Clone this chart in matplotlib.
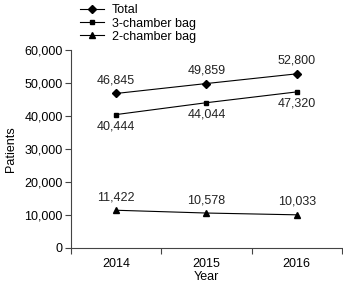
import matplotlib.pyplot as plt
from matplotlib.ticker import FuncFormatter

plt.rcParams['font.family'] = ['Liberation Sans', 'DejaVu Sans']

years = ['2014', '2015', '2016']
total = [46845, 49859, 52800]
three_chamber = [40444, 44044, 47320]
two_chamber = [11422, 10578, 10033]

fig = plt.figure(figsize=(3.43, 2.83), dpi=100)
ax = fig.add_axes([0.207, 0.124, 0.79, 0.699])

x = range(len(years))
series = [
    (total, 'D', 'Total', 3.6, 'above'),
    (three_chamber, 's', '3-chamber bag', 3.5, 'below'),
    (two_chamber, '^', '2-chamber bag', 4.2, 'above'),
]
handles = []
for vals, mk, label, ms, pos in series:
    h, = ax.plot(x, vals, color='black', lw=0.8, marker=mk, ms=ms, label=label)
    handles.append(h)
    for xi, v in zip(x, vals):
        if pos == 'above':
            ax.annotate(f'{v:,}', (xi, v), xytext=(0, 5), textcoords='offset points',
                        ha='center', va='bottom', fontsize=9, color='#222222')
        else:
            ax.annotate(f'{v:,}', (xi, v), xytext=(0, -4), textcoords='offset points',
                        ha='center', va='top', fontsize=9, color='#222222')

ax.set_xlim(-0.5, 2.5)
ax.set_ylim(0, 60000)
ax.set_yticks(range(0, 60001, 10000))
ax.yaxis.set_major_formatter(FuncFormatter(lambda v, p: f'{int(v):,}'))
ax.set_xticks([-0.5, 0.5, 1.5, 2.5])
ax.set_xticklabels([])
ax.set_xticks(list(x), minor=True)
ax.set_xticklabels(years, minor=True)
ax.tick_params(axis='x', which='minor', length=0, pad=7, labelsize=9)
ax.tick_params(axis='x', which='major', length=4, width=0.8, color='#444444')
ax.tick_params(axis='y', length=4, width=0.8, color='#444444', labelsize=9, pad=2)
for s in ['top', 'right']:
    ax.spines[s].set_visible(False)
for s in ['left', 'bottom']:
    ax.spines[s].set_color('#444444')
    ax.spines[s].set_linewidth(0.8)

ax.set_ylabel('Patients', fontsize=9, labelpad=5)
ax.set_xlabel('Year', fontsize=9, labelpad=1)

fig.legend(handles=handles, loc='upper left', bbox_to_anchor=(0.205, 1.02),
           frameon=False, fontsize=9, handlelength=1.9, handletextpad=0.6,
           labelspacing=0.1, borderpad=0.3)

fig.savefig('out.png', dpi=100)
